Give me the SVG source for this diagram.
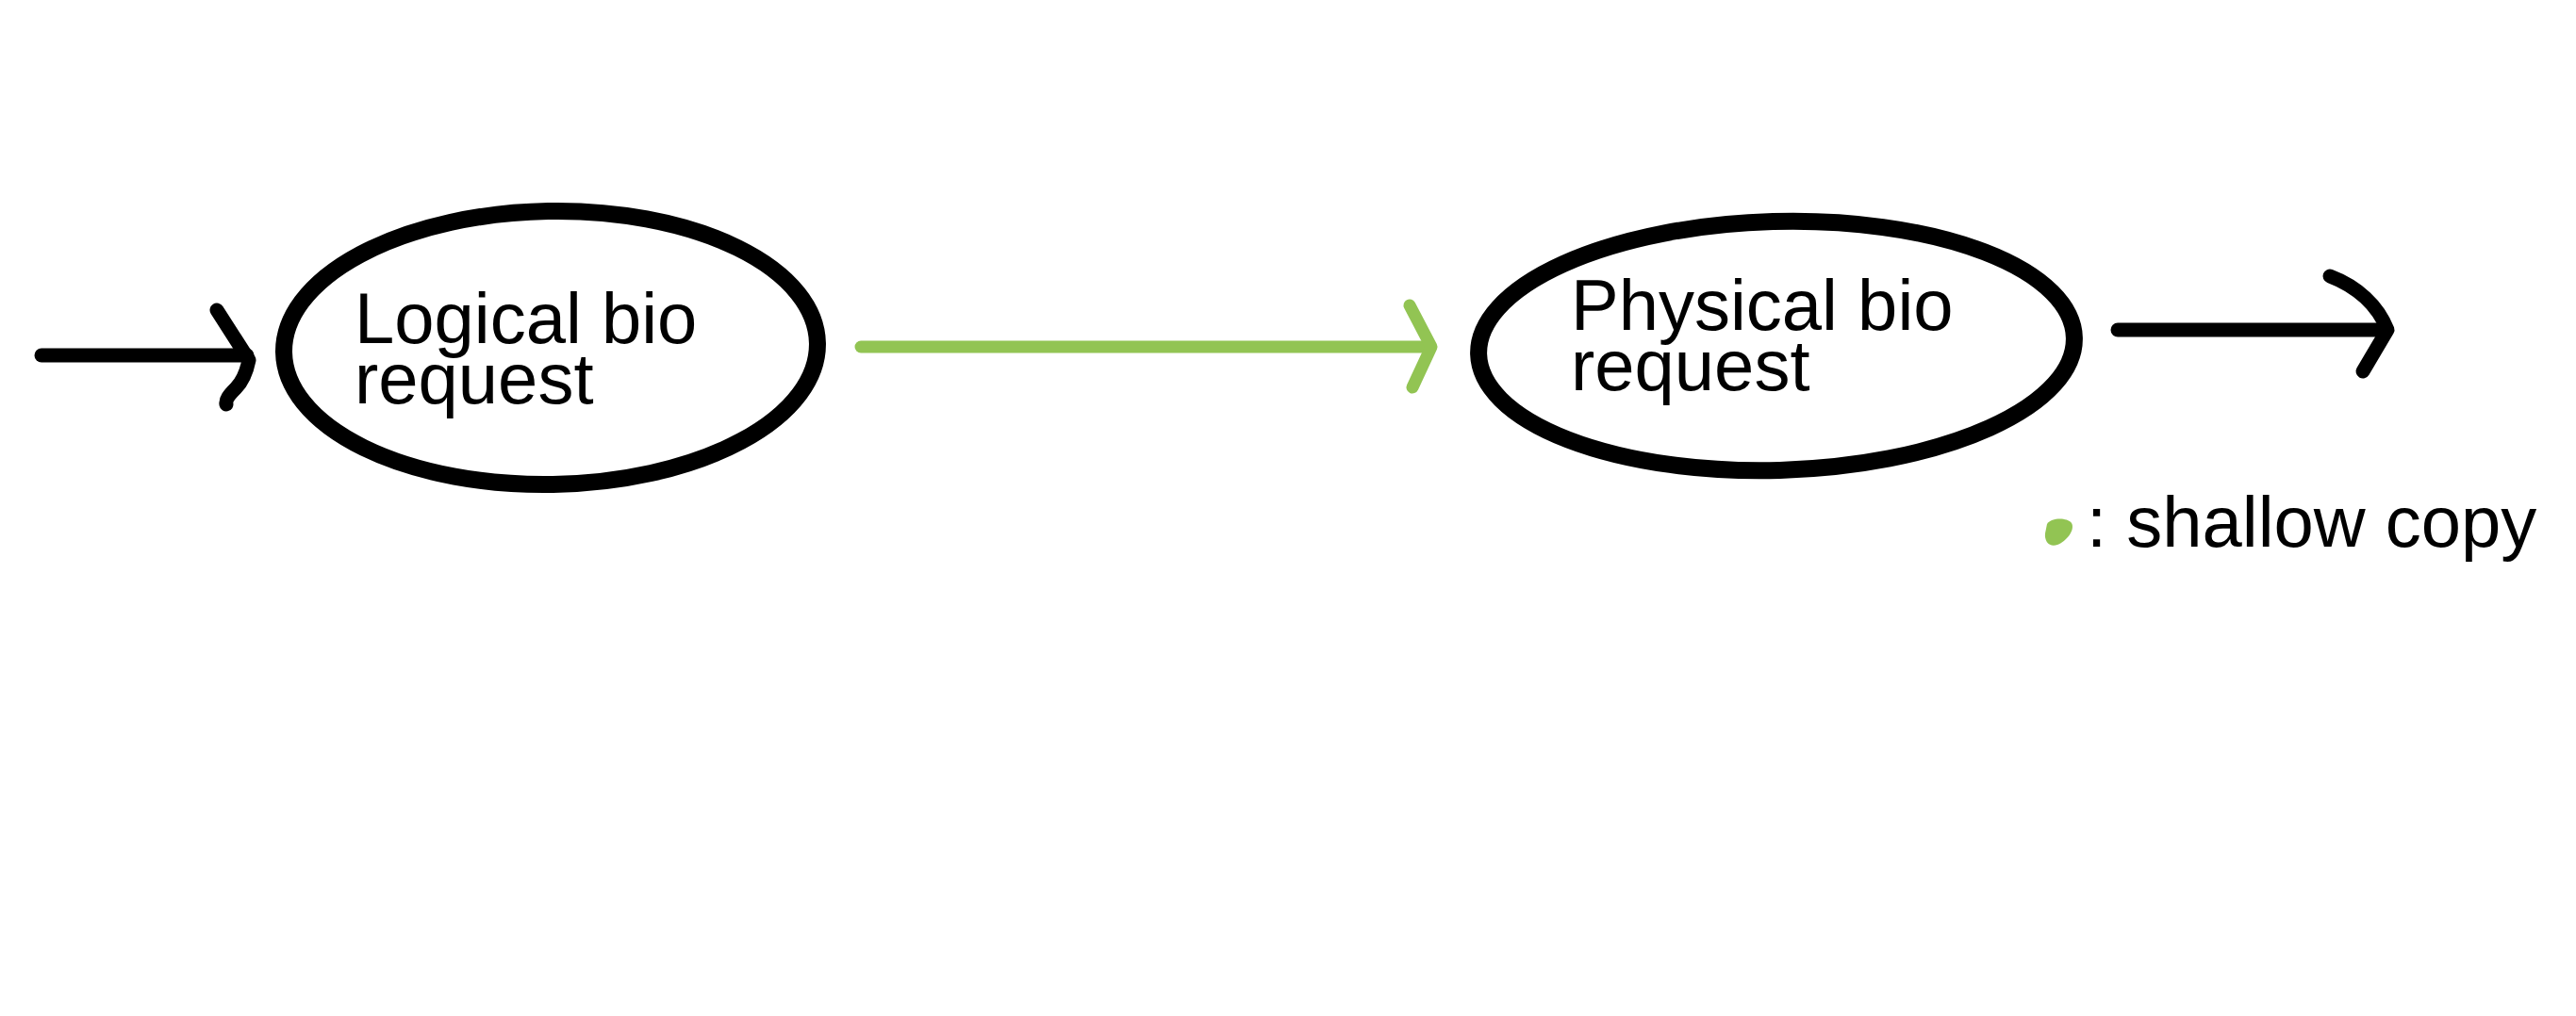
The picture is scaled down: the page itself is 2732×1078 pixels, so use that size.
<svg xmlns="http://www.w3.org/2000/svg" width="2732" height="1078" viewBox="0 0 2732 1078">
<style>
.node{fill:#ffffff;stroke:#000000;stroke-width:18}
.lbl{font-family:"Liberation Sans",Arial,sans-serif;font-size:76px;fill:#000000}
.blk{fill:none;stroke:#000000;stroke-width:15;stroke-linecap:round;stroke-linejoin:round}
.grn{fill:none;stroke:#92c453;stroke-width:13;stroke-linecap:round;stroke-linejoin:round}
</style>
<rect width="2732" height="1078" fill="#ffffff"/>
<g id="connectors">
<g id="edge-in">
<path class="blk" d="M44,377 H262"/>
<path class="blk" d="M230,329 L264,382 C262,392 258,404 250,412 C243,419 239,424 240,429"/>
</g>
<g id="edge-shallow">
<path class="grn" d="M913,368 H1516"/>
<path class="grn" d="M1495,324 L1518,368 L1498,411"/>
</g>
<g id="edge-out">
<path class="blk" d="M2246,350 H2530"/>
<path class="blk" d="M2471,293 C2500,304 2522,324 2532,350 L2506,394"/>
</g>
</g>
<g id="node-logical">
<ellipse class="node" cx="584" cy="369" rx="283" ry="145" transform="rotate(-1 584 369)"/>
<text class="lbl"><tspan x="376" y="364">Logical bio</tspan><tspan x="376" y="428">request</tspan></text>
</g>
<g id="node-physical">
<ellipse class="node" cx="1884" cy="367" rx="316" ry="132" transform="rotate(-1.6 1884 367)"/>
<text class="lbl"><tspan x="1666" y="350">Physical bio</tspan><tspan x="1666" y="414">request</tspan></text>
</g>
<g id="legend">
<path d="M2171,556 C2176,549 2192,549 2197,555 C2201,562 2192,574 2182,578 C2174,581 2168,575 2169,566 Z" fill="#92c453"/>
<text class="lbl" x="2213" y="580">: shallow copy</text>
</g>
</svg>
